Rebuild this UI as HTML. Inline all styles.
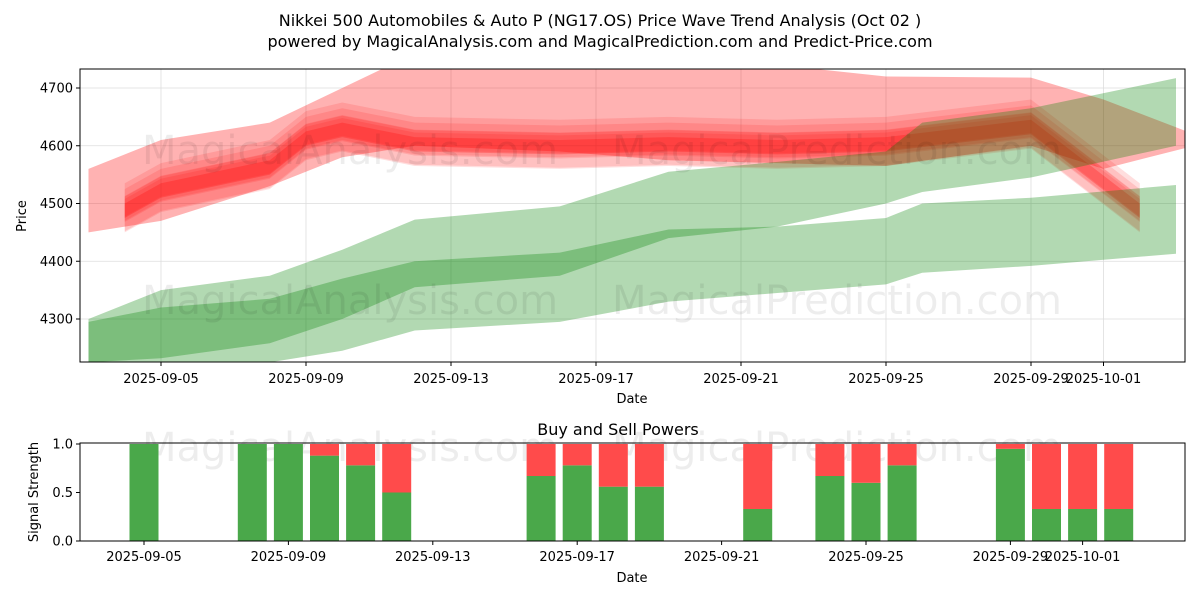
<!DOCTYPE html>
<html><head><meta charset="utf-8"><style>
body{margin:0;background:#fff;font-family:"Liberation Sans","DejaVu Sans",sans-serif}
svg text{font-family:"DejaVu Sans","Liberation Sans",sans-serif}
</style></head><body>
<svg id="c" width="1200" height="600" xmlns="http://www.w3.org/2000/svg">
<text x="600" y="26" text-anchor="middle" font-size="16">Nikkei 500 Automobiles &amp; Auto P (NG17.OS) Price Wave Trend Analysis (Oct 02 )</text>
<text x="600" y="47" text-anchor="middle" font-size="16">powered by MagicalAnalysis.com and MagicalPrediction.com and Predict-Price.com</text>
<text x="618" y="435" text-anchor="middle" font-size="16">Buy and Sell Powers</text>
</svg>
<script>
// ---- data ----
const redDays=[1,2,5,6,7,9,13,16,19,22,26,29];
const redCenter=[4490,4525,4565,4615,4630,4605,4600,4605,4600,4605,4635,4490];
const redOffsets=[0,10,-10,15,-15,5,-5];
const redHalf=[22,25,28,30,25,18,15];
const bigDays=[0,2,5,7,9,13,16,19,22,26,28,30.5];
const bigUp=[4560,4610,4640,4700,4760,4760,4760,4740,4720,4718,4680,4620];
const bigLo=[4450,4470,4530,4580,4600,4590,4575,4570,4565,4600,4560,4600];
const gDays=[0,2,5,7,9,13,16,19,22,23,26,30];
const gAUp=[4300,4350,4375,4420,4472,4495,4555,4572,4590,4640,4665,4717];
const gALo=[4225,4232,4258,4300,4355,4375,4440,4460,4500,4520,4545,4600];
const gBUp=[4295,4320,4335,4370,4400,4415,4455,4460,4475,4500,4510,4532];
const gBLo=[4195,4215,4225,4245,4280,4295,4330,4345,4360,4380,4392,4413];
const xTickLabels=["2025-09-05","2025-09-09","2025-09-13","2025-09-17","2025-09-21","2025-09-25","2025-09-29","2025-10-01"];
const xTickDays=[2,6,10,14,18,22,26,28];
const yTicks=[4300,4400,4500,4600,4700];
const barDays=[2,5,6,7,8,9,13,14,15,16,19,21,22,23,26,27,28,29];
const barBuy=[1,1,1,0.88,0.78,0.5,0.67,0.78,0.56,0.56,0.33,0.67,0.6,0.78,0.95,0.33,0.33,0.33];
const sTicks=[0,0.5,1.0];
// ---- axes ----
const NS="http://www.w3.org/2000/svg",svg=document.getElementById('c');
const X=d=>88.5+d*36.25, Y=v=>88+(4700-v)*0.5775;
const XB=d=>144+(d-2)*36.1, YB=v=>541-v*97;
function el(t,a,p){const e=document.createElementNS(NS,t);for(const k in a)e.setAttribute(k,a[k]);(p||svg).appendChild(e);return e;}
const cp=el('clipPath',{id:'cl'});el('rect',{x:80,y:69,width:1105,height:293},cp);
const g=el('g',{'clip-path':'url(#cl)'});


yTicks.forEach(v=>{el('line',{x1:80,x2:1185,y1:Y(v),y2:Y(v),stroke:'#ddd','stroke-width':0.8},g);});
xTickDays.forEach(d=>{el('line',{x1:X(d),x2:X(d),y1:69,y2:362,stroke:'#ddd','stroke-width':0.8},g);});
function poly(days,up,lo,fill,op,name){
 let pts=days.map((d,i)=>X(d)+','+Y(up[i]));
 for(let i=days.length-1;i>=0;i--)pts.push(X(days[i])+','+Y(lo[i]));
 const p=el('polygon',{points:pts.join(' '),fill:fill,'fill-opacity':op},g);
 
 
}
poly(bigDays,bigUp,bigLo,'#ff0000',0.3,'red-wave-band-wide');
redOffsets.forEach((o,k)=>{
 const up=redCenter.map((c)=>c+o+redHalf[k]);
 const lo=redCenter.map((c)=>c+o-redHalf[k]);
 poly(redDays,up,lo,'#ff0000',0.13,'red-wave-band');
});
poly(gDays,gAUp,gALo,'#008000',0.3,'green-wave-band-upper');
poly(gDays,gBUp,gBLo,'#008000',0.3,'green-wave-band-lower');
[[350,150],[837,150],[350,300],[837,300]].forEach((p,i)=>{const t=el('text',{x:p[0],y:p[1]+14,'text-anchor':'middle','font-size':40,fill:'#000','fill-opacity':0.07});t.textContent=i%2?'MagicalPrediction.com':'MagicalAnalysis.com';

});
el('rect',{x:80,y:69,width:1105,height:293,fill:'none',stroke:'#000','stroke-width':1});
yTicks.forEach(v=>{el('line',{x1:76,x2:80,y1:Y(v),y2:Y(v),stroke:'#000'});const t=el('text',{x:73,y:Y(v)+4.5,'text-anchor':'end','font-size':13});t.textContent=v;

});
xTickDays.forEach((d,i)=>{el('line',{x1:X(d),x2:X(d),y1:362,y2:366,stroke:'#000'});const t=el('text',{x:X(d),y:383,'text-anchor':'middle','font-size':13});t.textContent=xTickLabels[i];

});
let t=el('text',{x:632,y:403,'text-anchor':'middle','font-size':13});t.textContent='Date';


t=el('text',{x:26,y:216,'text-anchor':'middle','font-size':13,transform:'rotate(-90 26 216)'});t.textContent='Price';


[[350,447],[837,447]].forEach((p,i)=>{const w=el('text',{x:p[0],y:p[1]+14,'text-anchor':'middle','font-size':40,fill:'#000','fill-opacity':0.07});w.textContent=i?'MagicalPrediction.com':'MagicalAnalysis.com';

});
barDays.forEach((d,i)=>{const x=XB(d)-14.5;
 const b=el('rect',{x:x,y:YB(barBuy[i]),width:29,height:YB(0)-YB(barBuy[i]),fill:'#4aa84a'});
 
 
 const s=el('rect',{x:x,y:YB(1),width:29,height:YB(barBuy[i])-YB(1),fill:'#ff4b4b'});
 
 });
el('rect',{x:80,y:443,width:1105,height:98,fill:'none',stroke:'#000','stroke-width':1});
sTicks.forEach(v=>{el('line',{x1:76,x2:80,y1:YB(v),y2:YB(v),stroke:'#000'});const q=el('text',{x:73,y:YB(v)+4.5,'text-anchor':'end','font-size':13});q.textContent=v.toFixed(1);

});
xTickDays.forEach((d,i)=>{el('line',{x1:XB(d),x2:XB(d),y1:541,y2:545,stroke:'#000'});const q=el('text',{x:XB(d),y:561,'text-anchor':'middle','font-size':13});q.textContent=xTickLabels[i];

});
t=el('text',{x:632,y:582,'text-anchor':'middle','font-size':13});t.textContent='Date';


t=el('text',{x:38,y:492,'text-anchor':'middle','font-size':13,transform:'rotate(-90 38 492)'});t.textContent='Signal Strength';


</script>
</body></html>
